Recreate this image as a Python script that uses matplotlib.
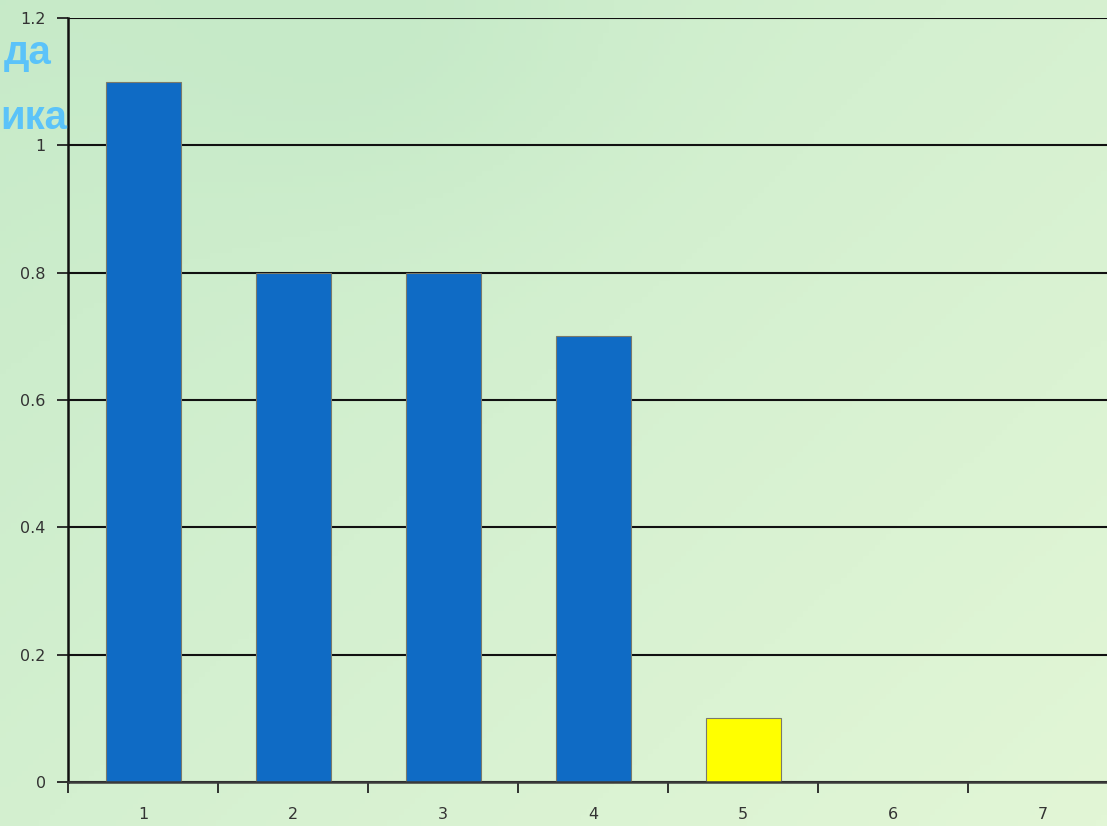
import numpy as np
import matplotlib
matplotlib.use('Agg')
import matplotlib.pyplot as plt
from matplotlib.colors import LinearSegmentedColormap

categories = [1, 2, 3, 4, 5, 6, 7]
values = [1.1, 0.8, 0.8, 0.7, 0.1, 0, 0]
bar_colors = ['#0f6bc5', '#0f6bc5', '#0f6bc5', '#0f6bc5', '#ffff00', '#0f6bc5', '#0f6bc5']
y_ticks = [0, 0.2, 0.4, 0.6, 0.8, 1, 1.2]
y_labels = ['0', '0.2', '0.4', '0.6', '0.8', '1', '1.2']

W, H = 1107, 826
fig = plt.figure(figsize=(W / 100, H / 100), dpi=100)

# фон: светло-зелёный градиент
bg = fig.add_axes([0, 0, 1, 1], zorder=-10)
gx = np.linspace(0, 1, 200)
gy = np.linspace(0, 1, 150)
X, Y = np.meshgrid(gx, gy)
shade = 0.55 * X + 0.45 * Y - 0.25 * np.exp(-((X - 0.35) ** 2) / 0.05 - (Y - 0.05) ** 2 / 0.05)
cmap = LinearSegmentedColormap.from_list('bg', ['#c6eac8', '#d4f0d0', '#e2f6d6'])
bg.imshow(shade, cmap=cmap, aspect='auto', extent=[0, 1, 1, 0])
bg.axis('off')

ax = fig.add_axes([68 / W, 44 / H, 1050 / W, 764 / H])
ax.patch.set_alpha(0)

ax.bar(categories, values, width=0.5, color=bar_colors, edgecolor='#7a7a6a', linewidth=0.8, zorder=3)

ax.set_xlim(0.5, 7.5)
ax.set_ylim(0, 1.2)
ax.set_yticks(y_ticks)
ax.set_yticklabels(y_labels)
ax.set_xticks(categories)
ax.set_xticks(np.arange(0.5, 8, 1), minor=True)
ax.tick_params(axis='x', which='major', length=0, pad=18, labelsize=11.5, labelcolor='#333333')
ax.tick_params(axis='x', which='minor', length=8, width=1.3, direction='out', color='#222222')
ax.tick_params(axis='y', length=8, width=1.3, direction='out', color='#222222', pad=8,
               labelsize=11.5, labelcolor='#333333')

ax.yaxis.grid(True, color='#111111', linewidth=1.5, zorder=1)
ax.set_axisbelow(True)
for s in ['top', 'right']:
    ax.spines[s].set_visible(False)
ax.spines['left'].set_color('#111111')
ax.spines['left'].set_linewidth(1.8)
ax.spines['bottom'].set_color('#3a3a3a')
ax.spines['bottom'].set_linewidth(1.8)
ax.spines['bottom'].set_zorder(4)

# заголовок слева (в оригинале частично срезан краем)
fig.text(52 / W, 1 - 64 / H, 'да', ha='right', va='baseline', fontsize=29,
         fontweight='bold', color='#5bc3f9', family='Liberation Sans')
fig.text(67 / W, 1 - 129 / H, 'ика', ha='right', va='baseline', fontsize=29,
         fontweight='bold', color='#5bc3f9', family='Liberation Sans')

fig.savefig('out.png', dpi=100)
